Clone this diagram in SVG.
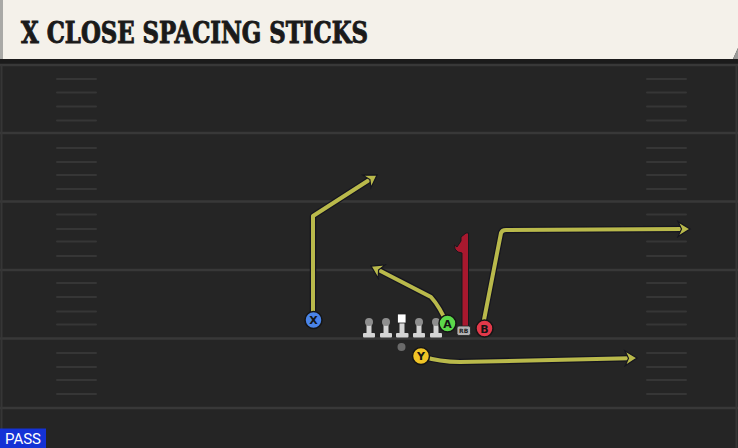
<svg xmlns="http://www.w3.org/2000/svg" width="738" height="448" viewBox="0 0 738 448">
<style>
.yard{stroke:#383838;stroke-width:2.5}
.hash{stroke:#363636;stroke-width:2;stroke-linecap:round}
.route-o{fill:none;stroke:#15151f;stroke-width:6.5;stroke-linejoin:round}
.route{fill:none;stroke:#b9b94b;stroke-width:4;stroke-linejoin:round}
.pl{stroke:#151515;stroke-width:1.5}
.lbl{font-family:"DejaVu Sans","Liberation Sans",sans-serif;font-weight:bold;font-size:11px;fill:#141414;text-anchor:middle}
.ol{fill:#d4d4d4}
.head{fill:#8e8e8e}
</style>
<defs>
<marker id="arr" markerUnits="userSpaceOnUse" markerWidth="18" markerHeight="18" viewBox="-2 -9 16 18" refX="4" refY="0" orient="auto">
<polygon points="0,-7.5 12,0 0,7.5 3.5,0" fill="#b9b94b" stroke="#15151f" stroke-width="1.2" stroke-linejoin="miter"/>
</marker>
</defs>
<rect x="0" y="0" width="738" height="448" fill="#252525"/>
<rect x="0" y="58" width="738" height="7" fill="#1b1b1b"/>
<g id="field">
<line class="yard" x1="0" y1="65" x2="738" y2="65"/>
<line class="yard" x1="0" y1="133" x2="738" y2="133"/>
<line class="yard" x1="0" y1="201.5" x2="738" y2="201.5"/>
<line class="yard" x1="0" y1="270" x2="738" y2="270"/>
<line class="yard" x1="0" y1="338.5" x2="738" y2="338.5"/>
<line class="yard" x1="0" y1="408" x2="738" y2="408"/>
<line x1="1.5" y1="65" x2="1.5" y2="448" stroke="#363636" stroke-width="2"/>
<line x1="736.5" y1="65" x2="736.5" y2="448" stroke="#363636" stroke-width="2"/>
<g id="hashes-left">
<line class="hash" x1="57" y1="79" x2="96" y2="79"/><line class="hash" x1="57" y1="92.5" x2="96" y2="92.5"/><line class="hash" x1="57" y1="106.5" x2="96" y2="106.5"/><line class="hash" x1="57" y1="120.5" x2="96" y2="120.5"/>
<line class="hash" x1="57" y1="148" x2="96" y2="148"/><line class="hash" x1="57" y1="162" x2="96" y2="162"/><line class="hash" x1="57" y1="175" x2="96" y2="175"/><line class="hash" x1="57" y1="189" x2="96" y2="189"/>
<line class="hash" x1="57" y1="214.5" x2="96" y2="214.5"/><line class="hash" x1="57" y1="229" x2="96" y2="229"/><line class="hash" x1="57" y1="241.5" x2="96" y2="241.5"/><line class="hash" x1="57" y1="256" x2="96" y2="256"/>
<line class="hash" x1="57" y1="283" x2="96" y2="283"/><line class="hash" x1="57" y1="297" x2="96" y2="297"/><line class="hash" x1="57" y1="311.5" x2="96" y2="311.5"/><line class="hash" x1="57" y1="324.5" x2="96" y2="324.5"/>
<line class="hash" x1="57" y1="353" x2="96" y2="353"/><line class="hash" x1="57" y1="367" x2="96" y2="367"/><line class="hash" x1="57" y1="380" x2="96" y2="380"/><line class="hash" x1="57" y1="394" x2="96" y2="394"/>
</g>
<g id="hashes-right">
<line class="hash" x1="647" y1="79" x2="686" y2="79"/><line class="hash" x1="647" y1="92.5" x2="686" y2="92.5"/><line class="hash" x1="647" y1="106.5" x2="686" y2="106.5"/><line class="hash" x1="647" y1="120.5" x2="686" y2="120.5"/>
<line class="hash" x1="647" y1="148" x2="686" y2="148"/><line class="hash" x1="647" y1="162" x2="686" y2="162"/><line class="hash" x1="647" y1="175" x2="686" y2="175"/><line class="hash" x1="647" y1="189" x2="686" y2="189"/>
<line class="hash" x1="647" y1="214.5" x2="686" y2="214.5"/><line class="hash" x1="647" y1="241.5" x2="686" y2="241.5"/><line class="hash" x1="647" y1="256" x2="686" y2="256"/>
<line class="hash" x1="647" y1="283" x2="686" y2="283"/><line class="hash" x1="647" y1="297" x2="686" y2="297"/><line class="hash" x1="647" y1="311.5" x2="686" y2="311.5"/><line class="hash" x1="647" y1="324.5" x2="686" y2="324.5"/>
<line class="hash" x1="647" y1="353" x2="686" y2="353"/><line class="hash" x1="647" y1="367" x2="686" y2="367"/><line class="hash" x1="647" y1="380" x2="686" y2="380"/><line class="hash" x1="647" y1="394" x2="686" y2="394"/>
</g>
</g>
<g id="banner">
<polygon points="0,0 738,0 738,48 733,59 0,59" fill="#f4f1ea"/>
<rect x="0" y="0" width="3" height="59" fill="#a9a9a6"/>
<polygon points="738,48 733,59 738,59" fill="#9a9a98"/>
<text x="21" y="43" font-family="'DejaVu Serif Condensed','DejaVu Serif','Liberation Serif',serif" font-weight="bold" font-size="29" fill="#1a1a1a" stroke="#1a1a1a" stroke-width="0.9" textLength="347" lengthAdjust="spacingAndGlyphs">X CLOSE SPACING STICKS</text>
</g>
<g id="connectors">
<path class="route-o" d="M313,319 L313,216 L370.3,179.3"/>
<path class="route" d="M313,319 L313,216 L370.3,179.3" marker-end="url(#arr)"/>
<path class="route-o" d="M447,324 Q440,307 431,297 L378.1,269.7"/>
<path class="route" d="M447,324 Q440,307 431,297 L378.1,269.7" marker-end="url(#arr)"/>
<path class="route-o" d="M483,325 L501,233 Q502,230 506,230 L682,229.1"/>
<path class="route" d="M483,325 L501,233 Q502,230 506,230 L682,229.1" marker-end="url(#arr)"/>
<path class="route-o" d="M421,356 Q440,362 460,362 L629,358.2"/>
<path class="route" d="M421,356 Q440,362 460,362 L629,358.2" marker-end="url(#arr)"/>
<polygon id="rb-block" points="461,237 466,233 468.5,233 468.5,328 462,328 462,253 458,252 455,249 454.5,245 457,247 461,241" fill="#a8182e" stroke="#18181c" stroke-width="1"/>
</g>
<g id="oline">
<g id="lt"><rect class="ol" x="366.5" y="322" width="5" height="12"/><rect class="ol" x="363" y="333" width="12" height="4.5" rx="1"/><circle class="head" cx="369" cy="322" r="4"/></g>
<g id="lg"><rect class="ol" x="383.5" y="322" width="5" height="12"/><rect class="ol" x="380" y="333" width="12" height="4.5" rx="1"/><circle class="head" cx="386" cy="322" r="4"/></g>
<g id="c"><rect class="ol" x="399.5" y="322" width="5" height="12"/><rect class="ol" x="396" y="333" width="12.5" height="4.5" rx="1"/><rect x="397.5" y="314" width="8.5" height="9" fill="#ffffff" stroke="#222" stroke-width="0.8"/></g>
<g id="rg"><rect class="ol" x="416.5" y="322" width="5" height="12"/><rect class="ol" x="413" y="333" width="12" height="4.5" rx="1"/><circle class="head" cx="419" cy="322" r="4"/></g>
<g id="rt"><rect class="ol" x="433.5" y="322" width="5" height="12"/><rect class="ol" x="430" y="333" width="12" height="4.5" rx="1"/><circle class="head" cx="436" cy="322" r="4"/></g>
<circle id="ball" cx="401.5" cy="347" r="4" fill="#6a6a6a"/>
</g>
<g id="rb"><rect x="457" y="326" width="13.5" height="9.5" rx="2" fill="#b2b2b2" stroke="#222" stroke-width="0.8"/><text x="463.7" y="333.2" font-family="'DejaVu Sans',sans-serif" font-weight="bold" font-size="6" fill="#222" text-anchor="middle">RB</text></g>
<g id="X"><circle class="pl" cx="313.5" cy="320" r="8.5" fill="#4a84e8"/><text class="lbl" x="313.5" y="324">X</text></g>
<g id="A"><circle class="pl" cx="447.5" cy="323.5" r="8.5" fill="#5cd84a"/><text class="lbl" x="447.5" y="327.5">A</text></g>
<g id="B"><circle class="pl" cx="484.5" cy="328.5" r="8.5" fill="#e2394a"/><text class="lbl" x="484.5" y="332.5">B</text></g>
<g id="Y"><circle class="pl" cx="421" cy="356" r="8.5" fill="#f0c426"/><text class="lbl" x="421" y="360">Y</text></g>
<g id="tag"><rect x="0" y="428.5" width="46" height="19.5" fill="#1432d6"/><text x="23" y="444" font-family="Roboto,'Liberation Sans',sans-serif" font-size="15" fill="#ffffff" text-anchor="middle">PASS</text></g>
</svg>
